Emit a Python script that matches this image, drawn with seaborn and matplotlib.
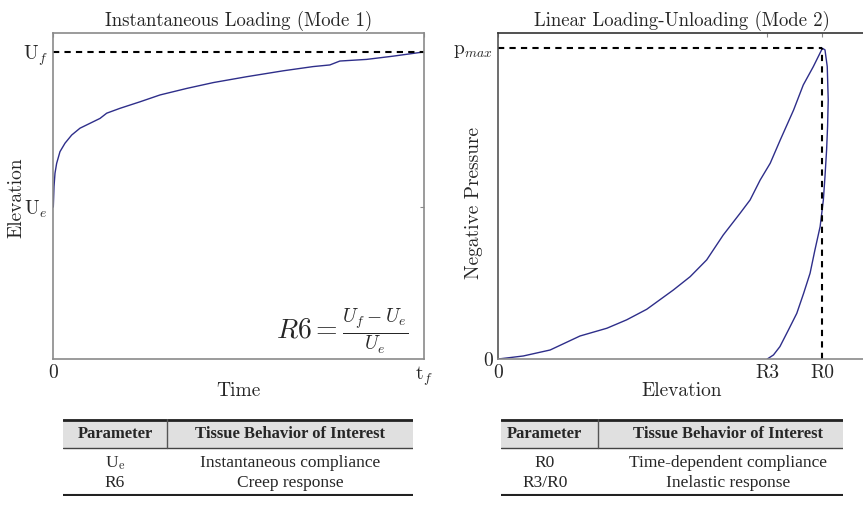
import numpy as np
import pandas as pd
import matplotlib
matplotlib.use("Agg")
import matplotlib.pyplot as plt
import seaborn as sns

# ---- data (normalised units) ----
creep_t = [0.0, 0.0019, 0.0046, 0.009, 0.018, 0.0316, 0.0496, 0.072, 0.099, 0.126,
           0.144, 0.180, 0.234, 0.288, 0.360, 0.432, 0.522, 0.620, 0.701, 0.746,
           0.773, 0.845, 0.917, 1.0]
creep_u = [0.466, 0.529, 0.570, 0.600, 0.636, 0.662, 0.687, 0.708, 0.723, 0.738,
           0.754, 0.769, 0.789, 0.810, 0.830, 0.848, 0.866, 0.884, 0.897, 0.902,
           0.914, 0.919, 0.929, 0.942]
U_e = 0.466
U_f = 0.942

load_x = [0.0, 0.077, 0.160, 0.252, 0.335, 0.396, 0.458, 0.540, 0.592, 0.643,
          0.694, 0.746, 0.777, 0.808, 0.839, 0.870, 0.911, 0.941, 0.972, 1.0]
load_p = [0.0, 0.0097, 0.029, 0.074, 0.099, 0.126, 0.160, 0.222, 0.265, 0.319,
          0.399, 0.469, 0.512, 0.576, 0.630, 0.705, 0.801, 0.882, 0.941, 1.0]
unload_x = [1.0, 1.008, 1.015, 1.018, 1.016, 1.013, 1.008, 1.003, 0.993, 0.977,
            0.962, 0.942, 0.921, 0.895, 0.869, 0.849, 0.830]
unload_p = [1.0, 0.995, 0.941, 0.834, 0.748, 0.673, 0.587, 0.512, 0.426, 0.351,
            0.276, 0.211, 0.147, 0.093, 0.040, 0.013, 0.0]
R0 = 1.0
R3 = 0.830
p_max = 1.0

left_ylabels = [r"U$_e$", r"U$_f$"]
left_xlabels = ["0", r"t$_f$"]
right_ylabels = ["0", r"p$_{max}$"]
right_xlabels = ["0", "R3", "R0"]

table1_header = ["Parameter", "Tissue Behavior of Interest"]
table1_rows = [[r"U$_{\rm e}$", "Instantaneous compliance"], ["R6", "Creep response"]]
table2_header = ["Parameter", "Tissue Behavior of Interest"]
table2_rows = [["R0", "Time-dependent compliance"], ["R3/R0", "Inelastic response"]]

# ---- style ----
sns.set_style("white")
plt.rcParams["font.family"] = ["cmr10", "DejaVu Serif"]
plt.rcParams["mathtext.fontset"] = "cm"
plt.rcParams["axes.unicode_minus"] = False

W, H = 863, 505
fig = plt.figure(figsize=(W / 100, H / 100), dpi=100)

def px_axes(x0, y0, x1, y1):
    return fig.add_axes([x0 / W, (H - y1) / H, (x1 - x0) / W, (y1 - y0) / H])

line_col = "#2e2e8a"
spine_col = "#8a8a8a"
fs = 14

def style_axes(ax):
    for s in ax.spines.values():
        s.set_color(spine_col)
        s.set_linewidth(1.2)
    ax.tick_params(direction="in", length=3, width=0.8, color=spine_col,
                   top=True, right=True, labelsize=fs, pad=4)

# ---- left panel ----
ax1 = px_axes(53.3, 33, 424, 359)
df1 = pd.DataFrame({"t": creep_t, "u": creep_u})
sns.lineplot(data=df1, x="t", y="u", ax=ax1, color=line_col, lw=1.0,
             sort=False, estimator=None)
ax1.plot([0, 1], [U_f, U_f], ls=(0, (3, 2.5)), color="black", lw=1.5)
ax1.set_xlim(0, 1)
ax1.set_ylim(0, 1)
ax1.set_xticks([0, 1])
ax1.set_xticklabels(left_xlabels)
ax1.set_yticks([U_e, U_f])
ax1.set_yticklabels(left_ylabels)
ax1.set_xlabel("Time", fontsize=fs)
ax1.set_ylabel("Elevation", fontsize=fs)
ax1.xaxis.set_label_coords(0.498, -0.07)
ax1.yaxis.set_label_coords(-0.076, 0.495)
ax1.set_title("Instantaneous Loading (Mode 1)", fontsize=13.5, pad=5)
ax1.text(0.778, 0.086, r"$R6 = \frac{U_f - U_e}{U_e}$", transform=ax1.transAxes,
         fontsize=20, ha="center", va="center")
style_axes(ax1)

# ---- right panel ----
ax2 = px_axes(498.3, 33, 871, 359)
df2a = pd.DataFrame({"x": load_x, "p": load_p})
df2b = pd.DataFrame({"x": unload_x, "p": unload_p})
sns.lineplot(data=df2a, x="x", y="p", ax=ax2, color=line_col, lw=1.0,
             sort=False, estimator=None)
sns.lineplot(data=df2b, x="x", y="p", ax=ax2, color=line_col, lw=1.0,
             sort=False, estimator=None)
ax2.plot([0, R0], [p_max, p_max], ls=(0, (3, 2.5)), color="black", lw=1.5)
ax2.plot([R0, R0], [0, p_max], ls=(0, (3, 2.5)), color="black", lw=1.5)
ax2.set_xlim(0, 1.15)
ax2.set_ylim(0, 326 / 310.7)
ax2.set_xticks([0, R3, R0])
ax2.set_xticklabels(right_xlabels)
ax2.set_yticks([0, p_max])
ax2.set_yticklabels(right_ylabels)
ax2.set_xlabel("Elevation", fontsize=fs)
ax2.set_ylabel("Negative Pressure", fontsize=fs)
ax2.xaxis.set_label_coords(0.493, -0.07)
ax2.yaxis.set_label_coords(-0.041, 0.479)
ax2.set_title("Linear Loading-Unloading (Mode 2)", fontsize=13.5, pad=5, x=0.493)
style_axes(ax2)
ax2.spines["right"].set_visible(False)
ax2.spines["left"].set_color("#555555")
ax2.spines["top"].set_color("#333333")

# ---- tables ----
def draw_table(x0, x1, header, rows, divx, c1, c2):
    y0, y1 = 419, 496
    ax = px_axes(x0, y0, x1, y1)
    ax.set_xlim(0, 1)
    ax.set_ylim(0, 1)
    ax.axis("off")
    hb = (y1 - 448) / (y1 - y0)
    ax.fill_between([0, 1], hb, 1, color="#e0e0e0", lw=0)
    ax.plot([0, 1], [0.99, 0.99], color="#222222", lw=2.0)
    ax.plot([0, 1], [hb, hb], color="#444444", lw=1.0)
    ax.plot([0, 1], [0.01, 0.01], color="#222222", lw=1.5)
    ax.plot([divx, divx], [hb, 1], color="#555555", lw=1.0)
    tf = ["Liberation Serif", "DejaVu Serif"]
    hc = (hb + 1) / 2
    ax.text(c1, hc, header[0], fontsize=12, weight="bold", family=tf, ha="center", va="center")
    ax.text(c2, hc, header[1], fontsize=12, weight="bold", family=tf, ha="center", va="center")
    ycs = [(y1 - 463) / (y1 - y0), (y1 - 483) / (y1 - y0)]
    for (a, b), yc in zip(rows, ycs):
        ax.text(c1, yc, a, fontsize=12.5, family=tf, ha="center", va="center")
        ax.text(c2, yc, b, fontsize=12.5, family=tf, ha="center", va="center")

draw_table(62.7, 413, table1_header, table1_rows, 0.297, 0.149, 0.649)
draw_table(500.7, 843, table2_header, table2_rows, 0.285, 0.129, 0.665)

fig.savefig("out.png", dpi=100)
